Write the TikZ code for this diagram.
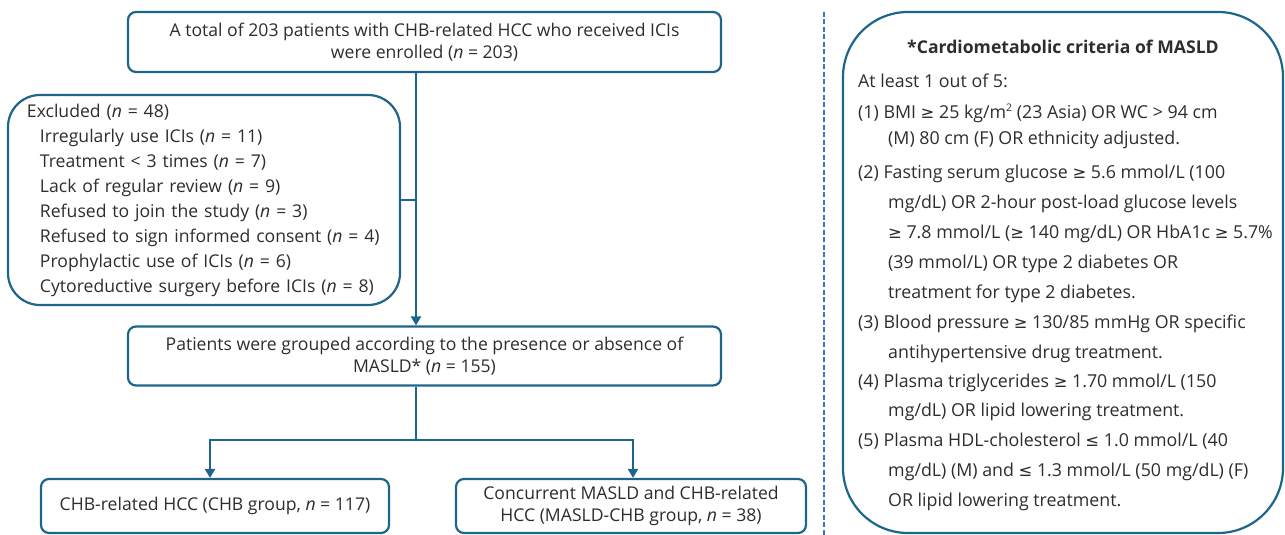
\documentclass[tikz,border=0pt]{standalone}
\usepackage{fontspec}
\setmainfont{Open Sans}
\newfontfamily\symfont[Scale=0.92]{DejaVu Sans}
\newcommand\mge{{\symfont ≥}}
\newcommand\mle{{\symfont ≤}}
\newcommand\smallsup[1]{\raisebox{6.5pt}{\fontsize{10.5}{11}\selectfont #1}}
\usetikzlibrary{arrows.meta}
\definecolor{boxblue}{RGB}{30,101,140}
\definecolor{dashblue}{RGB}{68,114,196}
\definecolor{txt}{RGB}{45,45,45}
\begin{document}
\begin{tikzpicture}[x=1pt,y=-1pt,
  box/.style={draw=boxblue, line width=2.2pt, rounded corners=8pt, inner sep=0pt, text=txt,
    font=\fontsize{17.6}{21.5}\selectfont, align=center},
  conn/.style={draw=boxblue, line width=2.6pt},
  arr/.style={conn, -{Triangle[width=10pt,length=9pt]}},
  ln/.style={anchor=base west, inner sep=0pt, text=txt, font=\fontsize{17.8}{20}\selectfont},
  dashline/.style={draw=dashblue, line width=1.8pt, dash pattern=on 5pt off 2.5pt}
]
\useasboundingbox (0,0) rectangle (1285,535);
% flow boxes
\node[box, minimum width=593pt, minimum height=60pt] (top) at (424.5,42)
  {A total of 203 patients with CHB-related HCC who received ICIs\\were enrolled (\textit{n} = 203)};
\node[box, rounded corners=32pt, minimum width=392pt, minimum height=210pt, text width=354pt,
  inner xsep=19pt, align=left, font=\fontsize{17.6}{25}\selectfont] (excl) at (204,200)
  {Excluded (\textit{n} = 48)\\
   \hspace*{13pt}Irregularly use ICIs (\textit{n} = 11)\\
   \hspace*{13pt}Treatment < 3 times (\textit{n} = 7)\\
   \hspace*{13pt}Lack of regular review (\textit{n} = 9)\\
   \hspace*{13pt}Refused to join the study (\textit{n} = 3)\\
   \hspace*{13pt}Refused to sign informed consent (\textit{n} = 4)\\
   \hspace*{13pt}Prophylactic use of ICIs (\textit{n} = 6)\\
   \hspace*{13pt}Cytoreductive surgery before ICIs (\textit{n} = 8)};
\node[box, minimum width=593pt, minimum height=59pt] (mid) at (424.5,356)
  {Patients were grouped according to the presence or absence of\\MASLD* (\textit{n} = 155)};
\node[box, minimum width=348pt, minimum height=54pt] (bl) at (215,506)
  {CHB-related HCC (CHB group, \textit{n} = 117)};
\node[box, minimum width=350pt, minimum height=54pt] (br) at (631,506)
  {Concurrent MASLD and CHB-related\\HCC (MASLD-CHB group, \textit{n} = 38)};
% connectors
\coordinate (j1) at (416,200);
\coordinate (j2) at (416,440);
\coordinate (jl) at (210,440);
\coordinate (jr) at (633,440);
\draw[arr] (top.south -| j1) -- (mid.north -| j1);
\draw[conn] (excl.east |- j1) -- (j1);
\draw[conn] (mid.south -| j2) -- (j2);
\draw[arr] (j2) -- (jl) -- (bl.north -| jl);
\draw[arr] (j2) -- (jr) -- (br.north -| jr);
% separator
\coordinate (d1) at (824,12);
\coordinate (d2) at (824,535);
\draw[dashline] (d1) -- (d2);
% criteria box
\node[box, rounded corners=65pt, minimum width=440pt, minimum height=521pt] (crit) at (1063,272.5) {};
\node[anchor=base, inner sep=0pt, text=txt, font=\fontsize{17.6}{20}\selectfont\bfseries] (t0) at (1063,54)
  {*Cardiometabolic criteria of MASLD};
\node[ln] (c0) at (858,88) {At least 1 out of 5:};
\node[ln] (c1a) at (858,118) {(1) BMI \mge{} 25 kg/m\smallsup{2} (23 Asia) OR WC > 94 cm};
\node[ln] (c1b) at (888,144) {(M) 80 cm (F) OR ethnicity adjusted.};
\node[ln] (c2a) at (858,178) {(2) Fasting serum glucose \mge{} 5.6 mmol/L (100};
\node[ln] (c2b) at (888,208) {mg/dL) OR 2-hour post-load glucose levels};
\node[ln] (c2c) at (888,238) {\mge{} 7.8 mmol/L (\mge{} 140 mg/dL) OR HbA1c \mge{} 5.7\%};
\node[ln] (c2d) at (888,268) {(39 mmol/L) OR type 2 diabetes OR};
\node[ln] (c2e) at (888,298) {treatment for type 2 diabetes.};
\node[ln] (c3a) at (858,328) {(3) Blood pressure \mge{} 130/85 mmHg OR specific};
\node[ln] (c3b) at (888,358) {antihypertensive drug treatment.};
\node[ln] (c4a) at (858,387) {(4) Plasma triglycerides \mge{} 1.70 mmol/L (150};
\node[ln] (c4b) at (888,416) {mg/dL) OR lipid lowering treatment.};
\node[ln] (c5a) at (858,446) {(5) Plasma HDL-cholesterol \mle{} 1.0 mmol/L (40};
\node[ln] (c5b) at (888,476) {mg/dL) (M) and \mle{} 1.3 mmol/L (50 mg/dL) (F)};
\node[ln] (c5c) at (888,506) {OR lipid lowering treatment.};
\end{tikzpicture}
\end{document}
